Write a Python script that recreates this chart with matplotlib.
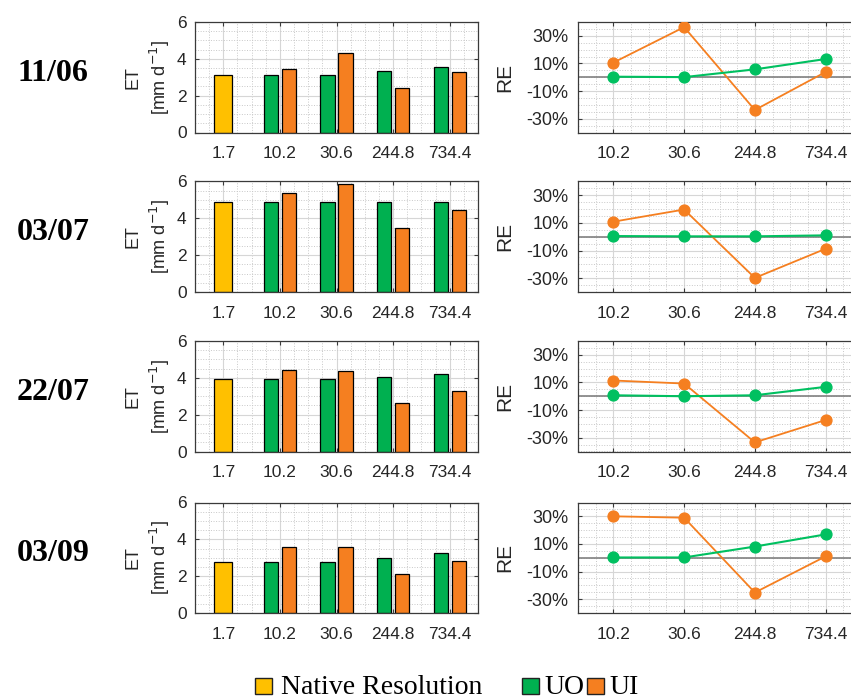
import numpy as np
import matplotlib.pyplot as plt
from matplotlib.patches import Rectangle
from matplotlib.ticker import MultipleLocator, FuncFormatter

# ET per date at each pixel size (m), plus relative error vs native resolution
dates = ["11/06", "03/07", "22/07", "03/09"]
res_labels = ["1.7", "10.2", "30.6", "244.8", "734.4"]
re_labels = ["10.2", "30.6", "244.8", "734.4"]

et_native = [3.13, 4.90, 3.95, 2.76]
et_uo = [[3.13, 3.13, 3.33, 3.58],
         [4.90, 4.90, 4.90, 4.90],
         [3.95, 3.95, 4.02, 4.20],
         [2.76, 2.76, 3.01, 3.28]]
et_ui = [[3.47, 4.32, 2.44, 3.29],
         [5.37, 5.84, 3.49, 4.47],
         [4.42, 4.35, 2.66, 3.30],
         [3.61, 3.61, 2.10, 2.83]]
re_uo = [[0.4, 0.1, 5.7, 13.2],
         [0.5, 0.3, 0.3, 1.0],
         [0.7, 0.0, 0.7, 6.8],
         [0.2, 0.2, 8.1, 16.9]]
re_ui = [[10.6, 36.3, -23.7, 3.8],
         [10.9, 19.7, -29.8, -8.7],
         [11.4, 9.2, -33.4, -17.2],
         [30.0, 29.0, -25.2, 1.0]]

YELLOW = "#FFC000"
GREEN = "#00B050"
GREEN_LINE = "#00C060"
ORANGE = "#F57F20"
TXT = "#262626"

W, H = 851, 699
fig = plt.figure(figsize=(W / 100, H / 100), dpi=100)
plt.rcParams['font.family'] = ['Liberation Sans', 'DejaVu Sans']


def px_axes(left, top, width, height):
    return fig.add_axes([left / W, 1 - (top + height) / H, width / W, height / H])


def style_axes(ax):
    ax.set_axisbelow(True)
    ax.grid(which='major', color='#d6d6d6', linewidth=0.8)
    ax.grid(which='minor', color='#c8c8c8', linestyle=':', linewidth=0.7)
    for s in ax.spines.values():
        s.set_color('#3a3a3a')
        s.set_linewidth(0.9)
    ax.tick_params(which='major', direction='in', length=3, colors=TXT,
                   labelsize=12.5, top=True, right=True, color='#3a3a3a')
    ax.tick_params(which='minor', length=0)
    ax.tick_params(axis='x', pad=10)


tops = [22, 181.5, 341, 502.5]
row_h = 110.5

for i, date in enumerate(dates):
    top = tops[i]

    # bar panel
    ax = px_axes(195, top, 283, row_h)
    x = np.arange(1, 6)
    ax.bar(x[0], et_native[i], width=0.32, color=YELLOW, edgecolor='black', linewidth=0.9)
    ax.bar(x[1:] - 0.16, et_uo[i], width=0.25, color=GREEN, edgecolor='black', linewidth=0.9)
    ax.bar(x[1:] + 0.16, et_ui[i], width=0.25, color=ORANGE, edgecolor='black', linewidth=0.9)
    ax.set_xlim(0.5, 5.5)
    ax.set_ylim(0, 6)
    ax.set_xticks(x)
    ax.set_xticklabels(res_labels)
    ax.set_yticks([0, 2, 4, 6])
    ax.xaxis.set_minor_locator(MultipleLocator(0.25))
    ax.yaxis.set_minor_locator(MultipleLocator(0.5))
    style_axes(ax)
    ax.tick_params(axis='y', pad=6)
    ax.set_ylabel("ET\n[mm d$^{-1}$]", fontsize=13, color=TXT, linespacing=1.35)
    ax.yaxis.set_label_coords(-0.08, 0.5)

    # relative error panel (extends past the right edge of the figure)
    ax2 = px_axes(578, top, 283, row_h)
    xr = np.arange(1, 5)
    ax2.axhline(0, color='#808080', linewidth=1.2, zorder=2)
    ax2.plot(xr, re_ui[i], '-o', color=ORANGE, linewidth=1.3, markersize=7.8, zorder=3)
    ax2.plot(xr, re_uo[i], '-o', color=GREEN_LINE, linewidth=1.5, markersize=7.8, zorder=4)
    ax2.set_xlim(0.5, 4.5)
    ax2.set_ylim(-40, 40)
    ax2.set_xticks(xr)
    ax2.set_xticklabels(re_labels)
    ax2.set_yticks([-30, -10, 10, 30])
    ax2.yaxis.set_major_formatter(FuncFormatter(lambda v, p: f"{v:.0f}%"))
    ax2.xaxis.set_minor_locator(MultipleLocator(0.25))
    ax2.yaxis.set_minor_locator(MultipleLocator(5))
    style_axes(ax2)
    ax2.tick_params(axis='y', labelsize=13, pad=7)
    ax2.set_ylabel("RE", fontsize=15, color=TXT)
    ax2.yaxis.set_label_coords(-0.225, 0.5)

    # date label on the left
    fig.text(17 / W, 1 - (top + row_h / 2 - 4) / H, date, fontsize=23, fontweight='bold',
             family='Liberation Serif', ha='left', va='center', color='black')

# legend along the bottom
legend_items = [("Native Resolution", YELLOW, 255, 281),
                ("UO", GREEN, 522, 544),
                ("UI", ORANGE, 587, 609)]
for label, color, px0, tx in legend_items:
    fig.patches.append(Rectangle((px0 / W, 1 - 694 / H), 17 / W, 16 / H,
                                 transform=fig.transFigure, facecolor=color,
                                 edgecolor='#222222', linewidth=1.0))
    fig.text(tx / W, 1 - 694 / H, label, fontsize=20, family='Liberation Serif',
             ha='left', va='baseline', color='black')

fig.savefig("out.png", dpi=100)
